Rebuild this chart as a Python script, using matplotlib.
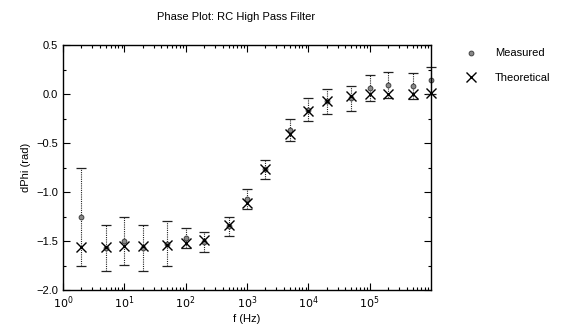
import matplotlib
matplotlib.use("Agg")
import matplotlib.pyplot as plt
from matplotlib.ticker import MultipleLocator, LogLocator, NullFormatter, FixedLocator
from matplotlib.lines import Line2D

plt.rcParams['font.family'] = ['Liberation Sans', 'DejaVu Sans']

freq = [2, 5, 10, 20, 50, 100, 200, 500, 1e3, 2e3, 5e3, 1e4, 2e4, 5e4, 1e5, 2e5, 5e5, 1e6]
measured = [-1.25, -1.57, -1.50, -1.57, -1.53, -1.47, -1.51, -1.35, -1.07, -0.77,
            -0.37, -0.16, -0.075, -0.045, 0.06, 0.09, 0.08, 0.14]
errors = [0.50, 0.235, 0.24, 0.235, 0.23, 0.10, 0.10, 0.10, 0.10, 0.10,
          0.11, 0.115, 0.125, 0.125, 0.13, 0.13, 0.135, 0.14]
theoretical = [-1.56, -1.56, -1.55, -1.55, -1.54, -1.52, -1.49, -1.34, -1.11, -0.77,
               -0.41, -0.17, -0.07, -0.02, 0.0, 0.0, 0.0, 0.01]

title = "Phase Plot: RC High Pass Filter"
xlabel = "f (Hz)"
ylabel = "dPhi (rad)"
legend_labels = ["Measured", "Theoretical"]
xtick_values = [1, 10, 100, 1e3, 1e4, 1e5]

fig = plt.figure(figsize=(5.61, 3.26), dpi=100)
ax = fig.add_axes([63/561, 1-290/326, (431-63)/561, (290-45)/326])

eb = ax.errorbar(freq, measured, yerr=errors, fmt='none', ecolor='#222222',
                 elinewidth=0.8, capsize=3.6, capthick=0.9, clip_on=False)
for lc in eb[2]:
    lc.set_linestyle((0, (1, 1)))
ax.plot(freq, measured, 'o', ms=3.5, mfc='#888888', mec='#333333', mew=0.6,
        linestyle='none', clip_on=False)
ax.plot(freq, theoretical, 'x', ms=7.5, mec='black', mew=1.0,
        linestyle='none', clip_on=False)

ax.set_xscale('log')
ax.set_xlim(1, 1e6)
ax.set_ylim(-2.0, 0.5)
ax.yaxis.set_major_locator(MultipleLocator(0.5))
ax.yaxis.set_minor_locator(MultipleLocator(0.25))
ax.xaxis.set_major_locator(FixedLocator(xtick_values))
ax.xaxis.set_minor_locator(LogLocator(base=10, subs=range(2, 10), numticks=20))
ax.xaxis.set_minor_formatter(NullFormatter())
ax.set_xticklabels([f"$10^{{{i}}}$" for i in range(len(xtick_values))])
ax.set_yticks([-2.0, -1.5, -1.0, -0.5, 0.0, 0.5])
ax.set_yticklabels([f"{v:.1f}".replace('-', '\u2212') for v in [-2.0, -1.5, -1.0, -0.5, 0.0, 0.5]])

ax.tick_params(which='both', direction='in', top=True, right=True, labelsize=8, width=0.8)
ax.tick_params(which='major', length=5)
ax.tick_params(which='minor', length=2.5)
for s in ax.spines.values():
    s.set_linewidth(1.0)

ax.set_xlabel(xlabel, fontsize=8, labelpad=2)
ax.set_ylabel(ylabel, fontsize=8, labelpad=4)
fig.text(236.5/561, 1-17/326, title, ha='center', va='center', fontsize=8)

handles = [Line2D([], [], marker='o', ms=3.5, mfc='#888888', mec='#333333', mew=0.6, linestyle='none'),
           Line2D([], [], marker='x', ms=7.5, mec='black', mew=1.0, linestyle='none')]
fig.legend(handles, legend_labels, loc='upper left', bbox_to_anchor=(455/561, 1-44/326),
           frameon=False, fontsize=8, handletextpad=1.2, labelspacing=1.3, borderaxespad=0)

fig.savefig('out.png', dpi=100)
